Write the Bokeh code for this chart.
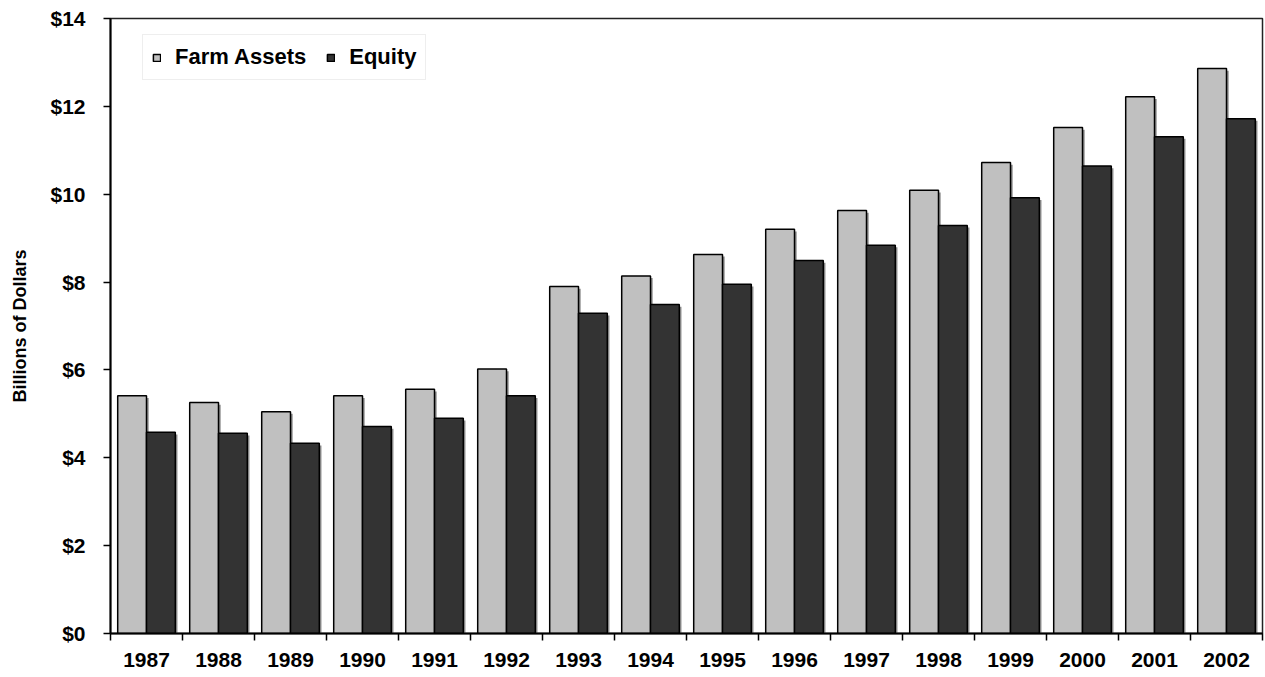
from bokeh.plotting import figure
from bokeh.models import (ColumnDataSource, FixedTicker, Legend, LegendItem, Range1d)
from bokeh.embed import file_html
from bokeh.resources import INLINE

years = ["1987", "1988", "1989", "1990", "1991", "1992", "1993", "1994",
         "1995", "1996", "1997", "1998", "1999", "2000", "2001", "2002"]
farm_assets = [5.41, 5.26, 5.05, 5.41, 5.56, 6.02, 7.90, 8.14,
               8.63, 9.20, 9.63, 10.09, 10.72, 11.52, 12.22, 12.86]
equity = [4.58, 4.56, 4.33, 4.71, 4.90, 5.41, 7.29, 7.49,
          7.95, 8.49, 8.84, 9.29, 9.92, 10.64, 11.31, 11.72]
y_ticks = [0, 2, 4, 6, 8, 10, 12, 14]
y_tick_labels = ["$0", "$2", "$4", "$6", "$8", "$10", "$12", "$14"]

FONT = "Liberation Sans"
BAR_W = 0.4

centers = [i + 0.5 for i in range(len(years))]
src = ColumnDataSource(dict(
    xa=[c - BAR_W / 2 for c in centers],
    xe=[c + BAR_W / 2 for c in centers],
    xa_s=[c - BAR_W / 2 + 0.03 for c in centers],
    xe_s=[c + BAR_W / 2 + 0.03 for c in centers],
    fa=farm_assets,
    eq=equity,
    fa_s=[v - 0.05 for v in farm_assets],
    eq_s=[v - 0.05 for v in equity],
))

p = figure(width=1265, height=669, output_backend="svg", toolbar_location=None,
           x_range=Range1d(0, len(years)), y_range=Range1d(0, 14),
           min_border_left=110, min_border_right=3, min_border_top=18,
           min_border_bottom=35)
p.background_fill_color = "white"
p.border_fill_color = "white"
p.outline_line_color = "#222222"
p.outline_line_width = 1.5
p.xgrid.visible = False
p.ygrid.visible = False

# shadows
p.vbar(x="xa_s", top="fa_s", width=BAR_W, bottom=0, source=src,
       fill_color="#8a8a8a", line_color=None)
p.vbar(x="xe_s", top="eq_s", width=BAR_W, bottom=0, source=src,
       fill_color="#8a8a8a", line_color=None)

r1 = p.vbar(x="xa", top="fa", width=BAR_W, bottom=0, source=src,
            fill_color="#C0C0C0", line_color="black", line_width=1.5)
r2 = p.vbar(x="xe", top="eq", width=BAR_W, bottom=0, source=src,
            fill_color="#333333", line_color="black", line_width=1.5)

# x axis: labels at centres, ticks at boundaries
p.xaxis.ticker = FixedTicker(ticks=centers, minor_ticks=list(range(len(years) + 1)))
p.xaxis.major_label_overrides = {c: y for c, y in zip(centers, years)}
p.xaxis.major_tick_out = 0
p.xaxis.major_tick_in = 0
p.xaxis.minor_tick_out = 7
p.xaxis.minor_tick_in = 0
p.xaxis.minor_tick_line_color = "black"
p.xaxis.minor_tick_line_width = 1.5
p.xaxis.major_label_standoff = 12
p.xaxis.axis_line_color = "black"
p.xaxis.axis_line_width = 2
p.xaxis.major_label_text_font = FONT
p.xaxis.major_label_text_font_style = "bold"
p.xaxis.major_label_text_font_size = "21px"
p.xaxis.major_label_text_color = "black"

# y axis
p.yaxis.ticker = FixedTicker(ticks=y_ticks, minor_ticks=[])
p.yaxis.major_label_overrides = {t: l for t, l in zip(y_ticks, y_tick_labels)}
p.yaxis.major_tick_out = 7
p.yaxis.major_tick_in = 0
p.yaxis.major_tick_line_width = 1.5
p.yaxis.major_label_standoff = 18
p.yaxis.axis_line_color = "black"
p.yaxis.axis_line_width = 2
p.yaxis.major_label_text_font = FONT
p.yaxis.major_label_text_font_style = "bold"
p.yaxis.major_label_text_font_size = "21px"
p.yaxis.major_label_text_color = "black"
p.yaxis.axis_label = "Billions of Dollars"
p.yaxis.axis_label_text_font = FONT
p.yaxis.axis_label_text_font_style = "bold"
p.yaxis.axis_label_text_font_size = "18px"
p.yaxis.axis_label_text_color = "black"
p.yaxis.axis_label_standoff = 17

legend = Legend(items=[LegendItem(label="Farm Assets", renderers=[r1]),
                       LegendItem(label="Equity", renderers=[r2])],
                orientation="horizontal", location=(32, 553))
legend.label_text_font = FONT
legend.label_text_font_style = "bold"
legend.label_text_font_size = "22px"
legend.label_text_color = "black"
legend.glyph_width = 9
legend.glyph_height = 9
legend.label_standoff = 14
legend.spacing = 20
legend.padding = 9
legend.margin = 0
legend.border_line_color = "#dddddd"
legend.border_line_width = 1
legend.background_fill_color = "white"
p.add_layout(legend, "center")

open("out.html", "w").write(file_html(p, INLINE))
